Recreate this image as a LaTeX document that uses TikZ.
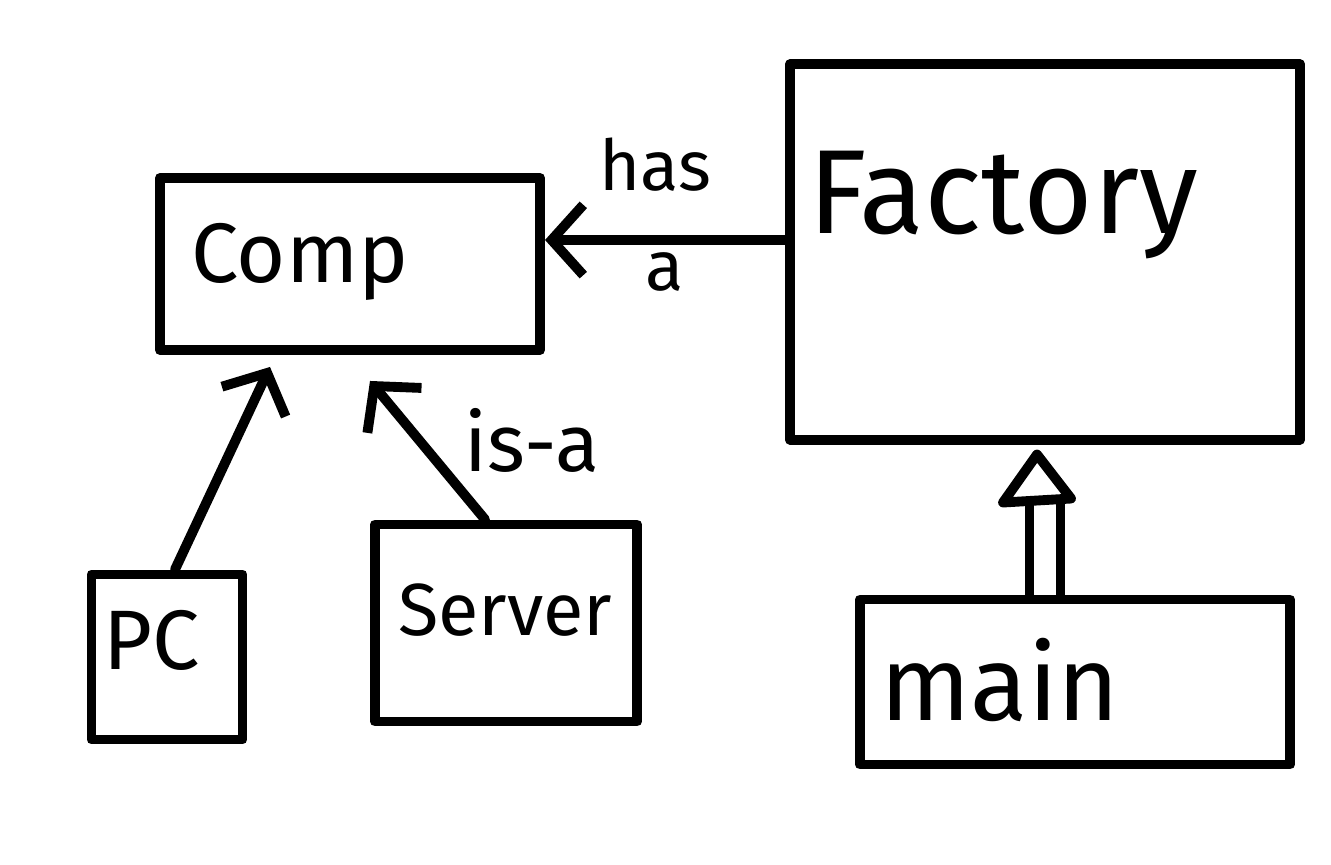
\documentclass[tikz,border=0pt]{standalone}
\usepackage{fontspec}
\setmainfont{Fira Sans}
\usetikzlibrary{arrows.meta,calc}
\begin{document}
\begin{tikzpicture}[x=0.01cm,y=-0.01cm,
  box/.style={draw, line width=2.8pt, rectangle, inner sep=0pt, line join=round},
  conn/.style={line width=2.8pt, line cap=round, -{Straight Barb[length=9pt,width=20pt,line width=2.8pt]}},
  txt/.style={inner sep=0pt, font=\fontsize{#1}{#1}\selectfont}]
\useasboundingbox (0,0) rectangle (1331,865);
% boxes
\node[box, minimum width=3.8cm, minimum height=1.72cm] (comp) at (350,264) {};
\node[box, minimum width=5.1cm, minimum height=3.75cm] (factory) at (1045,252) {};
\node[box, minimum width=1.51cm, minimum height=1.65cm] (pc) at (167,657) {};
\node[box, minimum width=2.62cm, minimum height=1.97cm] (server) at (506,623) {};
\node[box, minimum width=4.3cm, minimum height=1.65cm] (main) at (1075,682) {};
% texts
\node[txt=24pt] (tcomp) at (300,262) {Comp};
\node[txt=34pt] (tfactory) at (1003,205) {Factory};
\node[txt=24pt] (tpc) at (152,640) {PC};
\node[txt=21pt] (tserver) at (505,610) {Server};
\node[txt=30pt] (tmain) at (1000,680) {main};
% has-a
\coordinate (c1) at ($(comp.east)+(0,-24)$);
\draw[conn] (factory.west |- c1) -- (c1);
\node[txt=20pt] (has) at (655,165) {has};
\node[txt=20pt] (a) at (665,272) {a};
% is-a
\draw[conn] ($(pc.north)+(8,0)$) -- ($(comp.south)+(-80,12)$);
\draw[conn] ($(server.north)+(-21,0)$) -- ($(comp.south)+(20,26)$);
\node[txt=23pt] (isa) at (532,440) {is-a};
% main -> factory
\coordinate (mtop) at ($(main.north)+(-30,0)$);
\coordinate (tip) at ($(factory.south)+(-8,10)$);
\coordinate (tbase) at ($(tip)+(0,48)$);
\draw[line width=2.8pt, double distance=6pt] (mtop) -- (mtop |- tbase);
\draw[line width=2.8pt, line join=round, fill=white] (tip) -- ($(tip)+(-34,48)$) -- ($(tip)+(34,44)$) -- cycle;
\end{tikzpicture}
\end{document}
